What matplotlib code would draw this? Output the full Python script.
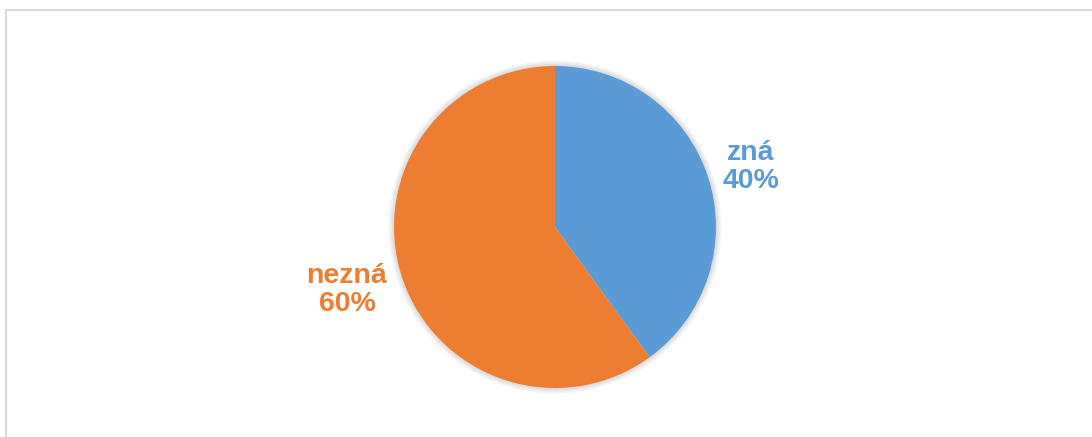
import matplotlib
matplotlib.use('Agg')
import matplotlib.pyplot as plt
from matplotlib.lines import Line2D
from matplotlib.patches import Circle

labels = ['zná', 'nezná']
values = [40, 60]
colors = ['#5B9BD5', '#ED7D31']

plt.rcParams['font.family'] = ['Liberation Sans', 'DejaVu Sans']

W, H = 1092, 437
fig = plt.figure(figsize=(W / 100, H / 100), dpi=100)

# light frame of the chart area
fig.add_artist(Line2D([6 / W, 6 / W], [0, 1 - 10 / H], color='#d9d9d9', lw=1.5))
fig.add_artist(Line2D([6 / W, 1], [1 - 10 / H, 1 - 10 / H], color='#d9d9d9', lw=1.5))

cx, cy, r = 555, 227, 161
ax = fig.add_axes([(cx - r) / W, (H - cy - r) / H, 2 * r / W, 2 * r / H])

# soft shadow around the pie
for i in range(6):
    ax.add_patch(Circle((0, 0), 1 + 0.006 * (i + 1), color='#000000',
                        alpha=0.025, lw=0, zorder=0, clip_on=False))

ax.pie(values, colors=colors, startangle=90, counterclock=False,
       radius=1, wedgeprops=dict(linewidth=0))
ax.set_xlim(-1, 1)
ax.set_ylim(-1, 1)
ax.set_aspect('equal')
ax.axis('off')

label_pos = [((751 - cx) / r, (cy - 167) / r), ((347 - cx) / r, (cy - 290) / r)]
for lab, v, c, (x, y) in zip(labels, values, colors, label_pos):
    ax.text(x, y, f'{lab}\n{v}%', color=c, fontsize=20.5, fontweight='bold',
            ha='center', va='center', linespacing=1.06, clip_on=False)

fig.savefig('out.png', dpi=100)
